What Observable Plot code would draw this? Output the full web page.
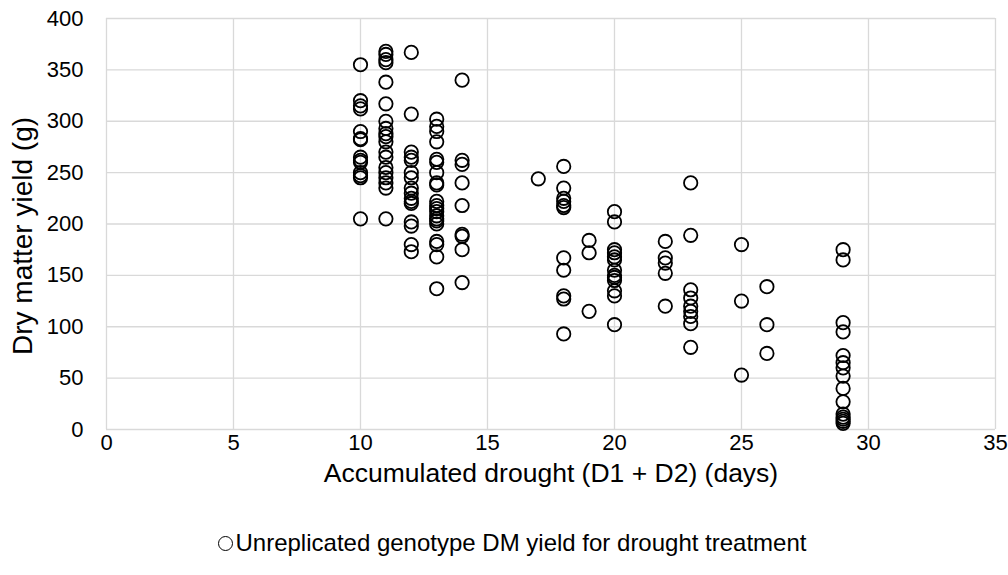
<!DOCTYPE html>
<html>
<head>
<meta charset="utf-8">
<script src="https://cdn.jsdelivr.net/npm/d3@7"></script>
<script src="https://cdn.jsdelivr.net/npm/@observablehq/plot@0.6"></script>
<style>
  body { margin: 0; background: #fff; font-family: "Liberation Sans", Arial, sans-serif; }
  #chart { width: 1008px; height: 495px; }
  .legend { display: flex; justify-content: center; align-items: center; margin-top: 34px; font-size: 24px; line-height: 28px; color: #000; padding-left: 16px; }
  .legend .mk { width: 15px; height: 15px; border: 1.8px solid #000; border-radius: 50%; margin-right: 3px; box-sizing: border-box; }
</style>
</head>
<body>
<div id="chart"></div>
<script>
const seriesName = "Unreplicated genotype DM yield for drought treatment";
const xTitle = "Accumulated drought (D1 + D2) (days)";
const yTitle = "Dry matter yield (g)";
const xTicks = [0, 5, 10, 15, 20, 25, 30, 35];
const yTicks = [0, 50, 100, 150, 200, 250, 300, 350, 400];

const d10 = [355, 320, 315, 312, 290, 283, 282, 265, 262, 260, 250, 247, 245, 205];
const d11 = [368, 365, 360, 357, 338, 317, 300, 293, 288, 285, 280, 270, 265, 255, 250, 245, 240, 235, 205];
const d12 = [367, 307, 270, 265, 262, 250, 245, 235, 230, 225, 222, 220, 202, 198, 180, 173];
const d13 = [302, 295, 290, 280, 263, 260, 250, 240, 238, 222, 218, 215, 212, 208, 205, 203, 200, 183, 180, 168, 137];
const d14 = [340, 262, 258, 240, 218, 190, 188, 175, 143];
const d17 = [244];
const d18 = [256, 235, 225, 222, 218, 216, 167, 155, 130, 127, 93];
const d19 = [184, 172, 115];
const d20 = [212, 202, 175, 172, 168, 165, 155, 150, 148, 145, 135, 130, 102];
const d22 = [183, 167, 162, 152, 120];
const d23 = [240, 189, 136, 128, 120, 115, 110, 103, 80];
const d25 = [180, 125, 53];
const d26 = [139, 102, 74];
const d29 = [175, 165, 104, 95, 72, 65, 60, 52, 40, 27, 15, 12, 10, 8, 6];

const groups = [[10, d10], [11, d11], [12, d12], [13, d13], [14, d14], [17, d17], [18, d18], [19, d19],
                [20, d20], [22, d22], [23, d23], [25, d25], [26, d26], [29, d29]];
const data = groups.flatMap(([days, ys]) => ys.map(y => ({days, y})));

const plot = Plot.plot({
  width: 1008,
  height: 495,
  marginLeft: 106,
  marginRight: 13,
  marginTop: 18,
  marginBottom: 66,
  style: {fontFamily: "'Liberation Sans', Arial, sans-serif", fontSize: "22px", color: "#000", background: "#fff", overflow: "visible"},
  x: {domain: [0, 35], ticks: xTicks},
  y: {domain: [0, 400], ticks: yTicks},
  marks: [
    Plot.gridX(xTicks, {stroke: "#d9d9d9", strokeOpacity: 1, strokeWidth: 1.3}),
    Plot.gridY(yTicks, {stroke: "#d9d9d9", strokeOpacity: 1, strokeWidth: 1.3}),
    Plot.axisX(xTicks, {tickSize: 0, tickPadding: 5, fontSize: 22, label: xTitle, labelAnchor: "center", labelArrow: "none", labelOffset: 52}),
    Plot.axisY(yTicks, {tickSize: 0, tickPadding: 23, fontSize: 22, label: yTitle, labelAnchor: "center", labelArrow: "none", labelOffset: 94}),
    Plot.dot(data, {x: "days", y: "y", r: 6.7, stroke: "#000", strokeWidth: 1.8, fill: "none"})
  ]
});
plot.querySelectorAll("[aria-label='x-axis label'] text").forEach(t => t.setAttribute("font-size", "26.5"));
plot.querySelectorAll("[aria-label='y-axis label'] text").forEach(t => {
  t.setAttribute("font-size", "28");
  // nudge the rotated title slightly downward along the axis
  const tr = t.getAttribute("transform") || "";
  t.setAttribute("transform", "translate(0,12) " + tr);
});
document.getElementById("chart").appendChild(plot);

const leg = document.createElement("div");
leg.className = "legend";
leg.innerHTML = `<span class="mk"></span><span></span>`;
leg.lastChild.textContent = seriesName;
document.body.appendChild(leg);
</script>
</body>
</html>
